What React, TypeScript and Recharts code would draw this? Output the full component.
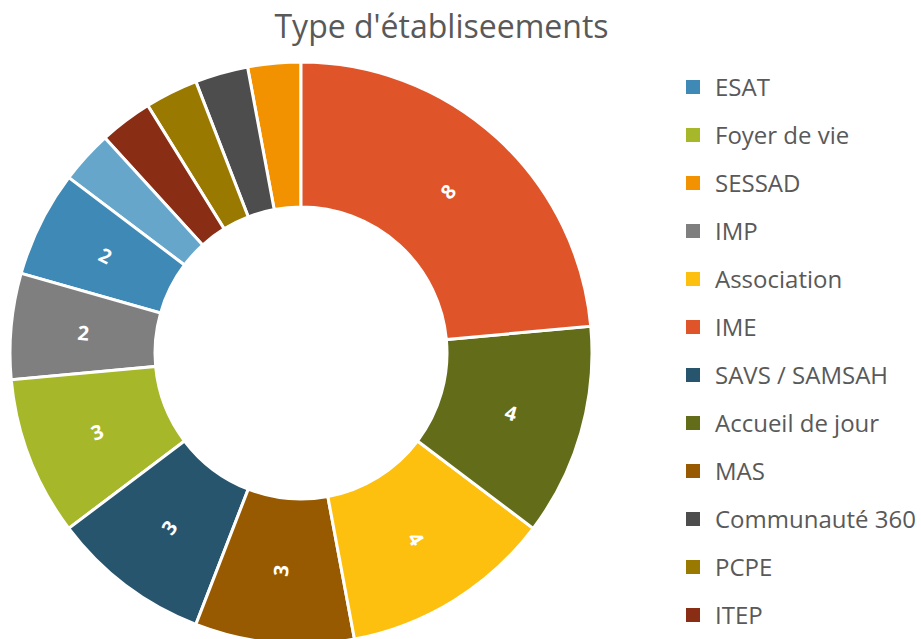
import { PieChart, Pie, Cell, Legend } from "recharts"

// legend order (= data order)
const categories = [
  "ESAT",
  "Foyer de vie",
  "SESSAD",
  "IMP",
  "Association",
  "IME",
  "SAVS / SAMSAH",
  "Accueil de jour",
  "MAS",
  "Communauté 360",
  "PCPE",
  "ITEP",
  "FAM",
]
const counts = [2, 3, 1, 2, 4, 8, 3, 4, 3, 1, 1, 1, 1]
const COLORS = [
  "#3F89B6",
  "#A6B72A",
  "#F39200",
  "#7F7F7F",
  "#FEC00E",
  "#E05429",
  "#28556E",
  "#636D19",
  "#975A00",
  "#4D4D4D",
  "#9A7900",
  "#8A2D15",
  "#66A6CB",
]
// the last legend entry falls below the visible frame in the original
const LEGEND_VISIBLE = 12

const TEXT = "#595959"
const RADIAN = Math.PI / 180

// slices drawn counterclockwise from the top, smallest first
const data = categories
  .map((name, i) => ({ name, value: counts[i], color: COLORS[i] }))
  .sort((a, b) => a.value - b.value)

const renderLabel = ({ cx, cy, midAngle, innerRadius, outerRadius, value }: any) => {
  if (value < 2) return null
  const r = (innerRadius + outerRadius) / 2
  const x = cx + r * Math.cos(-midAngle * RADIAN)
  const y = cy + r * Math.sin(-midAngle * RADIAN)
  let rot = (((-midAngle) % 360) + 360) % 360
  if (rot > 90 && rot <= 270) rot -= 180
  else if (rot > 270) rot -= 360
  return (
    <text
      x={x}
      y={y}
      fill="#fff"
      textAnchor="middle"
      dominantBaseline="central"
      fontSize={20}
      fontWeight={700}
      fontFamily="'Open Sans', sans-serif"
      transform={`rotate(${rot} ${x} ${y})`}
    >
      {value}
    </text>
  )
}

const renderLegend = ({ payload }: any) => {
  const items = [...(payload || [])]
    .sort((a: any, b: any) => categories.indexOf(a.value) - categories.indexOf(b.value))
    .slice(0, LEGEND_VISIBLE)
  return (
    <div>
      {items.map((entry: any) => (
        <div key={entry.value} style={{ display: "flex", alignItems: "center", height: 48 }}>
          <span style={{ width: 14, height: 14, background: entry.color, marginRight: 15 }} />
          <span style={{ fontSize: 24, color: TEXT, lineHeight: "32px", whiteSpace: "nowrap" }}>{entry.value}</span>
        </div>
      ))}
    </div>
  )
}

export default function App() {
  return (
    <div
      style={{
        position: "absolute",
        left: 0,
        top: 0,
        width: 921,
        height: 639,
        overflow: "hidden",
        background: "#fff",
        fontFamily: "'Open Sans', sans-serif",
      }}
    >
      <div
        style={{
          position: "absolute",
          left: 0,
          top: 6,
          width: 883,
          textAlign: "center",
          fontSize: 32,
          lineHeight: "40px",
          color: TEXT,
        }}
      >
        Type d'établiseements
      </div>
      <PieChart width={921} height={639} margin={{ top: 0, right: 0, bottom: 0, left: 0 }}>
        <Pie
          data={data}
          dataKey="value"
          nameKey="name"
          cx={301}
          cy={353}
          innerRadius={146}
          outerRadius={291}
          startAngle={90}
          endAngle={450}
          stroke="#fff"
          strokeWidth={3}
          labelLine={false}
          label={renderLabel}
          isAnimationActive={false}
        >
          {data.map((d) => (
            <Cell key={d.name} fill={d.color} />
          ))}
        </Pie>
        <Legend
          layout="vertical"
          align="right"
          verticalAlign="top"
          content={renderLegend}
          wrapperStyle={{ position: "absolute", left: 686, top: 63, width: 235 }}
        />
      </PieChart>
    </div>
  )
}
